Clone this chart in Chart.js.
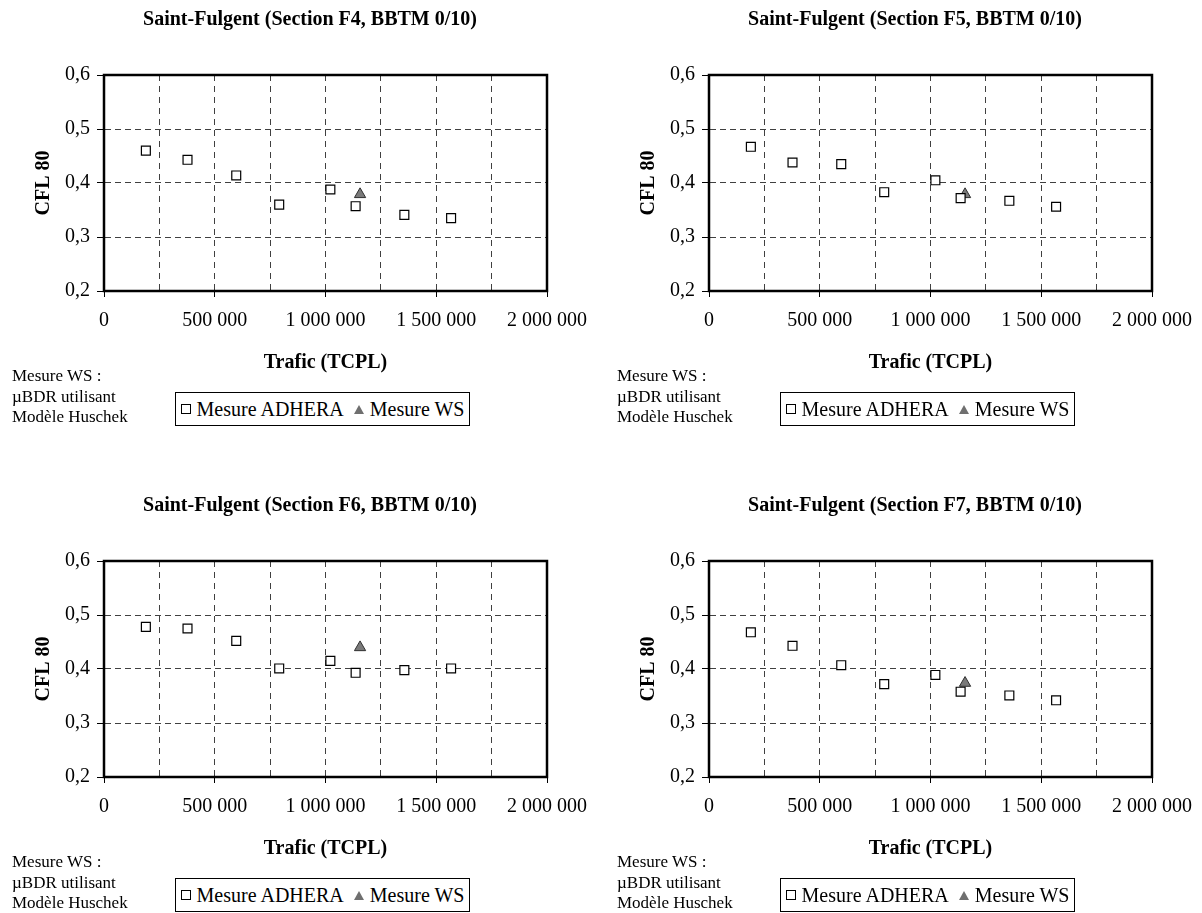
<!DOCTYPE html>
<html>
<head>
<meta charset="utf-8">
<script src="https://cdn.jsdelivr.net/npm/chart.js@4.4.1/dist/chart.umd.min.js"></script>
<style>
  body { margin: 0; background: #fff; width: 1202px; height: 913px; position: relative; overflow: hidden;
         font-family: "Liberation Serif", "Times New Roman", serif; color: #000; }
  .panel { position: absolute; width: 620px; height: 430px; }
  .panel canvas { position: absolute; left: 0; top: 0; }
  .note { position: absolute; left: 12px; top: 366px; font-size: 17px; line-height: 20.5px; }
  .legend { position: absolute; left: 175px; top: 392px; width: 293px; height: 32px; border: 1px solid #000;
            display: flex; align-items: center; justify-content: center; font-size: 20px; white-space: nowrap; }
  .sq { display: inline-block; width: 8px; height: 8px; border: 1px solid #000; margin-right: 6px; }
  .tri { display: inline-block; width: 0; height: 0; border-left: 5px solid transparent; border-right: 5px solid transparent;
         border-bottom: 9px solid #6f6f6f; margin: 0 6px 0 10px; }
</style>
</head>
<body>
<div class="panel" style="left:0;top:0">
  <canvas id="c0" width="620" height="380"></canvas>
  <div class="note">Mesure WS :<br>µBDR utilisant<br>Modèle Huschek</div>
  <div class="legend"><span class="sq"></span>Mesure ADHERA<span class="tri"></span>Mesure WS</div>
</div>
<div class="panel" style="left:605px;top:0">
  <canvas id="c1" width="620" height="380"></canvas>
  <div class="note">Mesure WS :<br>µBDR utilisant<br>Modèle Huschek</div>
  <div class="legend"><span class="sq"></span>Mesure ADHERA<span class="tri"></span>Mesure WS</div>
</div>
<div class="panel" style="left:0;top:486px">
  <canvas id="c2" width="620" height="380"></canvas>
  <div class="note">Mesure WS :<br>µBDR utilisant<br>Modèle Huschek</div>
  <div class="legend"><span class="sq"></span>Mesure ADHERA<span class="tri"></span>Mesure WS</div>
</div>
<div class="panel" style="left:605px;top:486px">
  <canvas id="c3" width="620" height="380"></canvas>
  <div class="note">Mesure WS :<br>µBDR utilisant<br>Modèle Huschek</div>
  <div class="legend"><span class="sq"></span>Mesure ADHERA<span class="tri"></span>Mesure WS</div>
</div>
<script>
// trafic cumulé (TCPL) des mesures ADHERA, commun aux 4 sections
const trafic = [189000, 377000, 597000, 791000, 1022000, 1136000, 1356000, 1567000]
const traficWS = [1156000]

const titres = [
    'Saint-Fulgent (Section F4, BBTM 0/10)',
    'Saint-Fulgent (Section F5, BBTM 0/10)',
    'Saint-Fulgent (Section F6, BBTM 0/10)',
    'Saint-Fulgent (Section F7, BBTM 0/10)'
]

// CFL 80 mesuré
const cflF4 = [0.460, 0.443, 0.414, 0.360, 0.388, 0.357, 0.341, 0.335]
const cflF5 = [0.467, 0.438, 0.435, 0.383, 0.405, 0.372, 0.367, 0.356]
const cflF6 = [0.478, 0.475, 0.452, 0.401, 0.415, 0.393, 0.398, 0.401]
const cflF7 = [0.468, 0.443, 0.407, 0.372, 0.389, 0.358, 0.351, 0.342]

// mesure WS (µBDR, modèle Huschek)
const wsF4 = [0.379]
const wsF5 = [0.379]
const wsF6 = [0.440]
const wsF7 = [0.374]

const yTicks = [0.2, 0.3, 0.4, 0.5, 0.6]
const xMax = 2000000

const FONT = '"Liberation Serif", "Times New Roman", serif'
Chart.defaults.font.family = FONT
Chart.defaults.color = '#000'

function milliers(v) {
    return String(v).replace(/\B(?=(\d{3})+(?!\d))/g, ' ')
}

const cadre = {
    id: 'cadre',
    afterDraw(chart) {
        const a = chart.chartArea
        const ctx = chart.ctx
        ctx.save()
        ctx.strokeStyle = '#000'
        ctx.lineWidth = 2.5
        ctx.strokeRect(a.left, a.top, a.right - a.left, a.bottom - a.top)
        ctx.restore()
    }
}

function makeChart(id, titre, cfl, ws) {
    const ctx = document.getElementById(id).getContext('2d')
    return new Chart(ctx, {
        type: 'scatter',
        data: {
            datasets: [{
                label: 'Mesure ADHERA',
                data: trafic.map((x, i) => ({ x: x, y: cfl[i] })),
                pointStyle: 'rect',
                pointRadius: 6.3,
                pointHoverRadius: 6.3,
                backgroundColor: '#fff',
                borderColor: '#000',
                borderWidth: 1.2
            }, {
                label: 'Mesure WS',
                data: traficWS.map((x, i) => ({ x: x, y: ws[i] })),
                pointStyle: 'triangle',
                pointRadius: 6.5,
                pointHoverRadius: 6.5,
                backgroundColor: '#7a7a7a',
                borderColor: '#303030',
                borderWidth: 1
            }]
        },
        options: {
            responsive: false,
            animation: false,
            layout: { padding: 0 },
            plugins: {
                legend: { display: false },
                tooltip: { enabled: false },
                title: {
                    display: true,
                    text: titre,
                    font: { size: 20, weight: 'bold' },
                    padding: { top: 8, bottom: 43 }
                }
            },
            scales: {
                x: {
                    type: 'linear',
                    min: 0,
                    max: xMax,
                    afterFit: s => { s.height = 89 },
                    ticks: {
                        stepSize: 250000,
                        autoSkip: false,
                        maxRotation: 0,
                        padding: 12,
                        font: { size: 20 },
                        callback: v => (v % 500000 === 0 ? milliers(v) : '')
                    },
                    grid: {
                        color: '#404040',
                        lineWidth: 1,
                        tickLength: 6,
                        tickColor: c => (c.tick && c.tick.value % 500000 === 0 ? '#000' : 'rgba(0,0,0,0)'),
                        tickBorderDash: []
                    },
                    border: { color: '#000', width: 2, dash: [6, 5] },
                    title: {
                        display: true,
                        text: 'Trafic (TCPL)',
                        font: { size: 20, weight: 'bold' },
                        padding: { top: 4, bottom: 5 }
                    }
                },
                y: {
                    min: yTicks[0],
                    max: yTicks[yTicks.length - 1],
                    afterFit: s => { s.width = 104 },
                    afterBuildTicks: s => { s.ticks = yTicks.map(v => ({ value: v })) },
                    ticks: {
                        padding: 7,
                        font: { size: 20 },
                        callback: v => v.toFixed(1).replace('.', ',')
                    },
                    grid: {
                        color: '#404040',
                        lineWidth: 1,
                        tickLength: 7,
                        tickColor: '#000',
                        tickBorderDash: []
                    },
                    border: { color: '#000', width: 2, dash: [6, 4] },
                    title: {
                        display: true,
                        text: 'CFL 80',
                        font: { size: 20, weight: 'bold' },
                        padding: { top: 32, bottom: 0 }
                    }
                },
                // axe fantôme à droite : réserve la marge pour centrer le titre
                y2: {
                    position: 'right',
                    display: true,
                    afterFit: s => { s.width = 73 },
                    ticks: { display: false },
                    grid: { display: false, drawTicks: false },
                    border: { display: false }
                }
            }
        },
        plugins: [cadre]
    })
}

makeChart('c0', titres[0], cflF4, wsF4)
makeChart('c1', titres[1], cflF5, wsF5)
makeChart('c2', titres[2], cflF6, wsF6)
makeChart('c3', titres[3], cflF7, wsF7)
</script>
</body>
</html>
